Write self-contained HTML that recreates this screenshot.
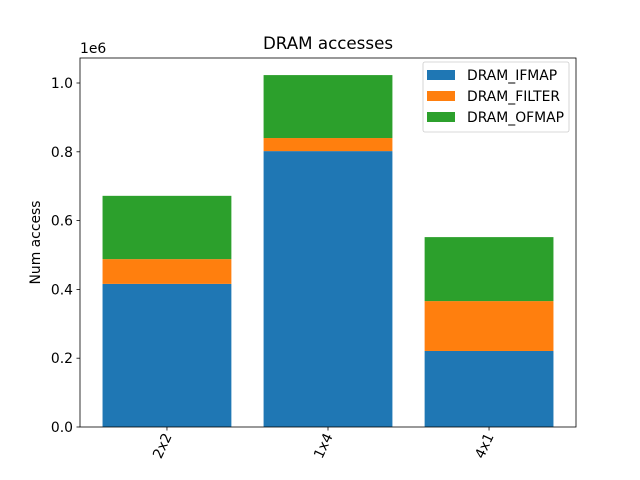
<!DOCTYPE html>
<html><head><meta charset="utf-8"><style>body{margin:0;background:#fff}svg{display:block;font-family:"DejaVu Sans","Liberation Sans",sans-serif}</style></head>
<body>
<svg id="chart" width="640" height="480"></svg>
<script>
const categories = ["2x2", "1x4", "4x1"];
const ifmap = [0.416e6, 0.802e6, 0.221e6];
const filter = [0.072e6, 0.038e6, 0.145e6];
const ofmap = [0.184e6, 0.183e6, 0.186e6];
const yTicks = [0, 0.2e6, 0.4e6, 0.6e6, 0.8e6, 1.0e6];
const yTickLabels = ["0.0", "0.2", "0.4", "0.6", "0.8", "1.0"];

const NS = "http://www.w3.org/2000/svg";
const svg = document.getElementById("chart");
const L = 80, R = 576, T = 58, B = 427;
const xMin = -0.54, xMax = 2.54;
function xs(v){ return L + (v - xMin) / (xMax - xMin) * (R - L); }
function ys(v){ return B - v / 1e6 * 344; }
function mk(tag, attrs, parent){ const e = document.createElementNS(NS, tag); for (const k in attrs) e.setAttribute(k, attrs[k]); (parent||svg).appendChild(e); return e; }

const FS = 13.9;
const series = [
  {name:"DRAM_IFMAP", vals:ifmap, color:"#1f77b4"},
  {name:"DRAM_FILTER", vals:filter, color:"#ff7f0e"},
  {name:"DRAM_OFMAP", vals:ofmap, color:"#2ca02c"}
];
const bw = 0.8 * (R - L) / (xMax - xMin);
categories.forEach((c, i) => {
  let base = 0;
  series.forEach(s => {
    const top = base + s.vals[i];
    const r = mk("rect", {x: xs(i) - bw/2, y: ys(top), width: bw, height: ys(base) - ys(top), fill: s.color});
    
    
    base = top;
  });
  mk("line", {x1: xs(i), x2: xs(i), y1: B, y2: B + 3.5, stroke: "#000", "stroke-width": 0.8});
  const t = mk("text", {x: 0, y: 0, "font-size": FS, "text-anchor": "end", transform: `translate(${xs(i)+5},${B+9}) rotate(-65)`});
  t.textContent = c;
  
  
});
yTicks.forEach((v, i) => {
  mk("line", {x1: L - 3.5, x2: L, y1: ys(v), y2: ys(v), stroke: "#000", "stroke-width": 0.8});
  const t = mk("text", {x: L - 7, y: ys(v) + 5, "font-size": FS, "text-anchor": "end"});
  t.textContent = yTickLabels[i];
  
  
});
mk("rect", {x: L, y: T, width: R - L, height: B - T, fill: "none", stroke: "#000", "stroke-width": 0.8});
const off = mk("text", {x: L, y: 53, "font-size": FS}); off.textContent = "1e6";
 
const title = mk("text", {x: (L+R)/2, y: 49, "font-size": 16.7, "text-anchor": "middle"}); title.textContent = "DRAM accesses";
 
const yl = mk("text", {x: 0, y: 0, "font-size": FS, "text-anchor": "middle", transform: `translate(40,${(T+B)/2}) rotate(-90)`}); yl.textContent = "Num access";
 

const lg = mk("g", {});
 
mk("rect", {x: 423, y: 62, width: 146, height: 70, rx: 2, fill: "#fff", stroke: "#ccc", "stroke-width": 0.8}, lg);
series.forEach((s, i) => {
  const y = 75 + i * 21;
  mk("rect", {x: 427, y: y - 5, width: 28, height: 10, fill: s.color}, lg);
  const t = mk("text", {x: 467, y: y + 5, "font-size": FS}, lg);
  t.textContent = s.name;
  
  
});
</script>
</body></html>
